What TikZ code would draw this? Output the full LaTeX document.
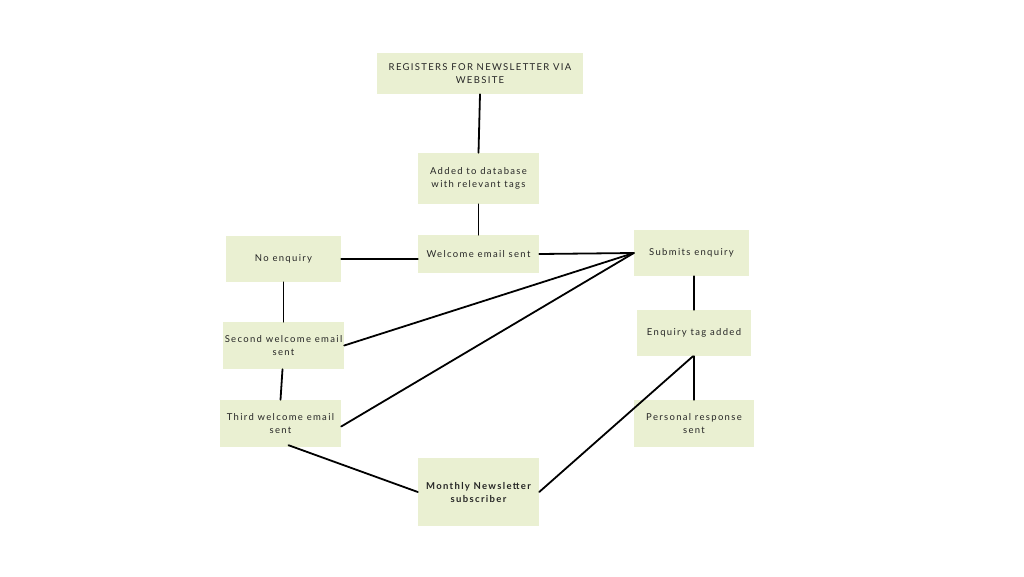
\documentclass[tikz,border=0pt]{standalone}
\usepackage{fontspec}
\setmainfont{Lato}[LetterSpace=14]
\usetikzlibrary{calc}
\definecolor{boxgreen}{HTML}{EAF0D2}
\definecolor{boxtext}{HTML}{262626}
\tikzset{
  stepbox/.style n args={2}{fill=boxgreen, text=boxtext, align=center, inner sep=0pt,
    minimum width=#1, minimum height=#2, font=\fontsize{9.5}{13}\selectfont},
  link/.style={line width=1.8pt, black, line cap=round},
}

\begin{document}
\begin{tikzpicture}[x=1pt, y=-1pt]
  \useasboundingbox[fill=white] (0,0) rectangle (1024,576);

  % steps of the newsletter journey
  \node[stepbox={206pt}{41pt}] (reg) at (480,73.5) {REGISTERS FOR NEWSLETTER VIA\\WEBSITE};
  \node[stepbox={121pt}{51pt}] (db) at (478.5,178.5) {Added to database\\with relevant tags};
  \node[stepbox={121pt}{38pt}] (welcome) at (478.5,254) {Welcome email sent};
  \node[stepbox={115pt}{46pt}] (noenq) at (283.5,259) {No enquiry};
  \node[stepbox={121pt}{47pt}] (second) at (283.5,345.5) {Second welcome email\\sent};
  \node[stepbox={121pt}{47pt}] (third) at (280.5,423.5) {Third welcome email\\sent};
  \node[stepbox={115pt}{46pt}] (submits) at (691.5,253) {Submits enquiry};
  \node[stepbox={114pt}{46pt}] (tag) at (694,333) {Enquiry tag added};
  \node[stepbox={120pt}{47pt}] (personal) at (694,423.5) {Personal response\\sent};
  \node[stepbox={121pt}{68pt}, font=\fontsize{9.5}{13}\selectfont\bfseries] (monthly) at (478.5,492)
    {Monthly Newsletter\\subscriber};

  % connectors
  \draw[link] (reg.south) -- (db.north);
  \draw[link] (db.south) -- (welcome.north);
  \draw[link] (noenq.east) -- (welcome.west |- noenq.east);
  \draw[link] (welcome.east) -- (submits.west);
  \draw[link] (second.east) -- (submits.west);
  \draw[link] ([yshift=-3pt]third.east) -- (submits.west);
  \draw[link] (noenq.south) -- (second.north);
  \draw[link] ([xshift=-1pt]second.south) -- (third.north);
  \draw[link] ([xshift=8pt,yshift=2pt]third.south) -- (monthly.west);
  \draw[link] (monthly.east) -- ([xshift=-1pt]tag.south);
  \draw[link] (submits.south -| tag.north) -- (tag.north);
  \draw[link] (tag.south) -- (personal.north);
\end{tikzpicture}
\end{document}
